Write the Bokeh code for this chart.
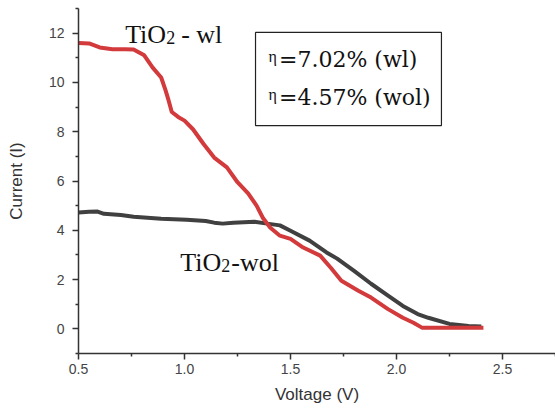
from bokeh.plotting import figure
from bokeh.models import FixedTicker, Range1d, PrintfTickFormatter
from bokeh.core.properties import value
from bokeh.embed import file_html
from bokeh.resources import INLINE

# TiO2 - wl (red)
wl_v = [0.50, 0.55, 0.60, 0.66, 0.72, 0.76, 0.81, 0.85, 0.89, 0.91, 0.925, 0.94, 0.97, 1.00, 1.04,
        1.09, 1.14, 1.20, 1.25, 1.30, 1.34, 1.37, 1.405, 1.45, 1.50, 1.56, 1.64, 1.69, 1.74,
        1.82, 1.88, 1.96, 2.03, 2.08, 2.12, 2.20, 2.30, 2.41]
wl_i = [11.60, 11.58, 11.42, 11.35, 11.35, 11.34, 11.10, 10.60, 10.20, 9.70, 9.27, 8.80, 8.60, 8.45, 8.10,
        7.50, 6.95, 6.55, 5.95, 5.50, 5.00, 4.50, 4.10, 3.78, 3.65, 3.30, 2.97, 2.48, 1.95,
        1.55, 1.27, 0.80, 0.45, 0.25, 0.05, 0.05, 0.05, 0.05]

# TiO2 - wol (dark grey)
wol_v = [0.50, 0.55, 0.59, 0.62, 0.70, 0.76, 0.89, 1.01, 1.10, 1.14, 1.18, 1.23, 1.33, 1.39, 1.45,
         1.50, 1.59, 1.67, 1.72, 1.80, 1.88, 1.96, 2.03, 2.10, 2.15, 2.25, 2.34, 2.40]
wol_i = [4.72, 4.75, 4.76, 4.67, 4.62, 4.55, 4.47, 4.43, 4.38, 4.31, 4.27, 4.31, 4.35, 4.27, 4.20,
         3.98, 3.58, 3.10, 2.85, 2.35, 1.83, 1.35, 0.93, 0.60, 0.45, 0.20, 0.12, 0.10]

x_ticks = [0.5, 1.0, 1.5, 2.0, 2.5]
x_minor = [0.75, 1.25, 1.75, 2.25, 2.75]
y_ticks = [0, 2, 4, 6, 8, 10, 12]
y_minor = [-1, 1, 3, 5, 7, 9, 11, 13]

p = figure(width=555, height=409, output_backend="svg", toolbar_location=None,
           x_range=Range1d(0.5, 2.75), y_range=Range1d(-1, 13),
           min_border_left=78, min_border_right=0, min_border_top=8, min_border_bottom=56)
p.outline_line_color = None
p.xgrid.visible = False
p.ygrid.visible = False

p.line(wol_v, wol_i, line_color="#404040", line_width=4)
p.line(wl_v, wl_i, line_color="#d23a3c", line_width=4)

for ax in (p.xaxis[0], p.yaxis[0]):
    ax.axis_line_color = "#333333"
    ax.axis_line_width = 1.5
    ax.major_tick_line_color = "#333333"
    ax.minor_tick_line_color = "#333333"
    ax.major_tick_line_width = 1.5
    ax.minor_tick_line_width = 1.5
    ax.major_tick_in = 0
    ax.major_tick_out = 6
    ax.minor_tick_in = 0
    ax.minor_tick_out = 3
    ax.major_label_text_font = "Liberation Sans"
    ax.major_label_text_font_size = "14px"
    ax.major_label_text_color = "#444444"
    ax.axis_label_text_font = "Liberation Sans"
    ax.axis_label_text_font_size = "17px"
    ax.axis_label_text_font_style = "normal"
    ax.axis_label_text_color = "#333333"

p.xaxis[0].major_label_standoff = 4
p.yaxis[0].major_label_standoff = 8
p.xaxis[0].ticker = FixedTicker(ticks=x_ticks, minor_ticks=x_minor)
p.yaxis[0].ticker = FixedTicker(ticks=y_ticks, minor_ticks=y_minor)
p.xaxis[0].formatter = PrintfTickFormatter(format="%.1f")
p.xaxis[0].axis_label = "Voltage (V)"
p.yaxis[0].axis_label = "Current (I)"
p.xaxis[0].axis_label_standoff = 8
p.yaxis[0].axis_label_standoff = 20

serif = value("Liberation Serif")
ink = "#111111"

# TiO2 - wl label
p.text(x=[0.72], y=[11.96], text=["TiO"], text_font=serif, text_font_size="26px",
       text_color=ink, text_baseline="alphabetic")
p.text(x=[0.72], y=[11.96], text=["2"], x_offset=41, y_offset=3, text_font=serif,
       text_font_size="18px", text_color=ink, text_baseline="alphabetic")
p.text(x=[0.72], y=[11.96], text=["- wl"], x_offset=56, text_font=serif, text_font_size="26px",
       text_color=ink, text_baseline="alphabetic")

# TiO2-wol label
p.text(x=[0.98], y=[2.69], text=["TiO"], text_font=serif, text_font_size="26px",
       text_color=ink, text_baseline="alphabetic")
p.text(x=[0.98], y=[2.69], text=["2"], x_offset=41, y_offset=3, text_font=serif,
       text_font_size="18px", text_color=ink, text_baseline="alphabetic")
p.text(x=[0.98], y=[2.69], text=["-wol"], x_offset=51, text_font=serif, text_font_size="26px",
       text_color=ink, text_baseline="alphabetic")

# efficiency box
p.quad(left=[1.335], right=[2.212], top=[12.03], bottom=[8.25],
       fill_color="white", line_color="#222222", line_width=1.2)
p.text(x=[1.396, 1.396], y=[10.94, 9.40], text=["η", "η"], y_offset=-3, text_font=serif,
       text_font_size="16px", text_color=ink, text_baseline="alphabetic")
p.text(x=[1.446, 1.446], y=[10.94, 9.40], text=["=7.02% (wl)", "=4.57% (wol)"],
       text_font=value("DejaVu Serif"), text_font_size="22px",
       text_color=ink, text_baseline="alphabetic")

open("out.html", "w").write(file_html(p, INLINE))
